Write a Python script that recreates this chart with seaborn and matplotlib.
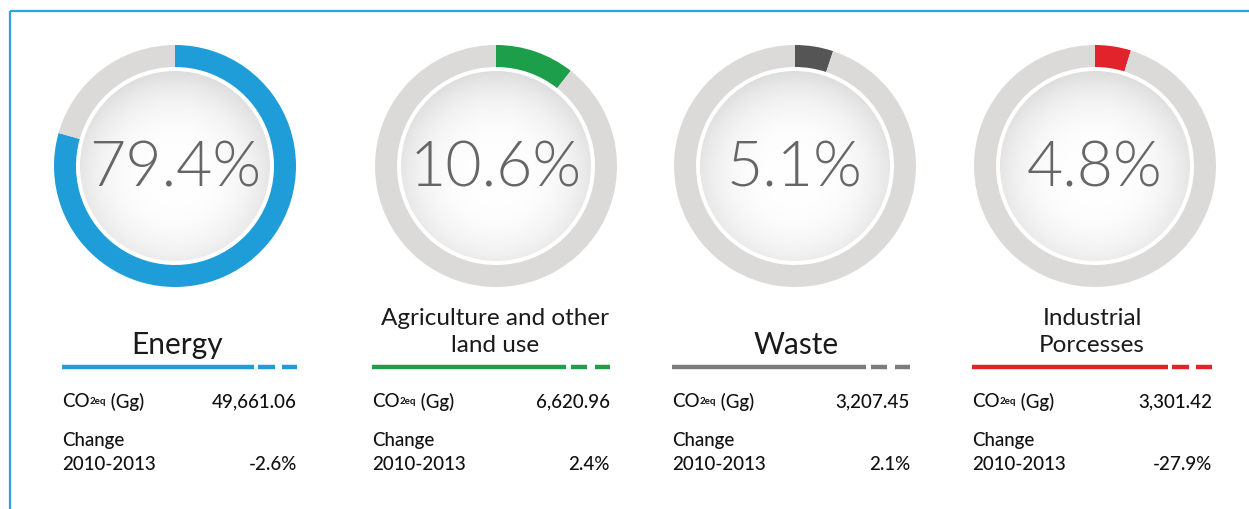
import numpy as np
import pandas as pd
import matplotlib
matplotlib.use("Agg")
import matplotlib.pyplot as plt
from matplotlib import font_manager
from matplotlib.patches import Circle
import seaborn as sns

# ---------------- data ----------------
categories = ["Energy", "Agriculture and other\nland use", "Waste", "Industrial\nPorcesses"]
shares = [79.4, 10.6, 5.1, 4.8]
share_labels = ["79.4%", "10.6%", "5.1%", "4.8%"]
co2_values = ["49,661.06", "6,620.96", "3,207.45", "3,301.42"]
change_values = ["-2.6%", "2.4%", "2.1%", "-27.9%"]
seg_colors = ["#1e9dd8", "#1c9e4a", "#555555", "#e2232b"]
line_colors = ["#1e9dd8", "#1c9e4a", "#7c7c7c", "#e2232b"]

df = pd.DataFrame({"category": categories, "share": shares})

# ---------------- style ----------------
sns.set_theme(style="white")


def has_family(name):
    return any(f.name == name for f in font_manager.fontManager.ttflist)


def light_family():
    for fam in ["Lato", "Open Sans", "Roboto", "Noto Sans", "Inter"]:
        for f in font_manager.fontManager.ttflist:
            if f.name == fam and isinstance(f.weight, int) and 290 <= f.weight <= 350:
                return fam, f.weight
    return ("Lato" if has_family("Lato") else "DejaVu Sans"), "normal"


BIG_FAM, BIG_W = light_family()
TXT_FAM = "Lato" if has_family("Lato") else "DejaVu Sans"
plt.rcParams["font.family"] = [TXT_FAM, "DejaVu Sans"]

W, H = 1249, 510
fig = plt.figure(figsize=(W / 100, H / 100), dpi=100)
fig.patch.set_facecolor("white")
ax = fig.add_axes([0, 0, 1, 1])

# layout (pixels, y measured from top)
centers_x = [175, 496, 795, 1095]
center_y = 167
R = 121
ring_w = 22
disc_r = 95
col_left = [62, 372, 672, 972]
col_right = [297, 610, 910, 1212]
title_dx = [-2, 4, 5, 0]

Y = lambda y: H - y  # convert top-based pixel to data y

# radial gradient image for inner discs
g = np.linspace(-1, 1, 300)
xx, yy = np.meshgrid(g, g)
rr = np.sqrt(xx ** 2 + (yy + 0.1) ** 2)
grad = np.clip(1.0 - 0.10 * rr ** 3.0, 0, 1)
grad_rgb = np.dstack([grad, grad, grad])

SMALL = dict(fontsize=13.5, color="#111111", fontweight="medium")

for i, row in df.iterrows():
    cx, cy = centers_x[i], Y(center_y)
    val = row["share"]
    ax.pie([val, 100 - val], center=(cx, cy), radius=R, startangle=90,
           counterclock=False, colors=[seg_colors[i], "#dcd9d9"],
           wedgeprops=dict(width=ring_w, linewidth=0), frame=True)
    im = ax.imshow(grad_rgb, extent=(cx - disc_r, cx + disc_r, cy - disc_r, cy + disc_r),
                   origin="lower", zorder=2, interpolation="bilinear")
    clip = Circle((cx, cy), disc_r, transform=ax.transData)
    im.set_clip_path(clip)
    ax.text(cx, cy - 2, share_labels[i], ha="center", va="center", fontsize=45,
            color="#666666", family=[BIG_FAM, "DejaVu Sans"], fontweight=BIG_W, zorder=3)

    # category title
    title = row["category"]
    mid = (col_left[i] + col_right[i]) / 2 + title_dx[i]
    if "\n" in title:
        ax.text(mid, Y(332), title, ha="center", va="center", fontsize=17.5,
                color="#1a1a1a", linespacing=1.4)
    else:
        ax.text(mid, Y(345), title, ha="center", va="center", fontsize=21.5,
                color="#1a1a1a")

    # underline: solid + two dashes
    L, Rr = col_left[i], col_right[i]
    span = Rr - L
    yl = Y(368)
    ax.plot([L, L + 0.815 * span], [yl, yl], color=line_colors[i], lw=3.2,
            solid_capstyle="butt")
    ax.plot([L + 0.835 * span, L + 0.905 * span], [yl, yl], color=line_colors[i], lw=3.2,
            solid_capstyle="butt")
    ax.plot([L + 0.935 * span, Rr], [yl, yl], color=line_colors[i], lw=3.2,
            solid_capstyle="butt")

    # CO2 row
    t_co = ax.text(L, Y(402), "CO", ha="left", va="center", **SMALL)
    t_sub = ax.annotate("2eq", xy=(1, 0.5), xycoords=t_co, ha="left", va="center",
                        fontsize=7, color="#111111", fontweight="bold")
    ax.annotate(" (Gg)", xy=(1, 0.5), xycoords=t_sub, ha="left", va="center", **SMALL)
    ax.text(Rr, Y(402), co2_values[i], ha="right", va="center", **SMALL)

    # change rows
    ax.text(L, Y(441), "Change", ha="left", va="center", **SMALL)
    ax.text(L, Y(465), "2010-2013", ha="left", va="center", **SMALL)
    ax.text(Rr, Y(465), change_values[i], ha="right", va="center", **SMALL)

# frame border (top and left only, as in the cropped reference)
ax.plot([10, W], [Y(12), Y(12)], color="#2ba3e0", lw=1.6, solid_capstyle="butt")
ax.plot([10, 10], [Y(12), 0], color="#2ba3e0", lw=1.6, solid_capstyle="butt")

ax.set_xlim(0, W)
ax.set_ylim(0, H)
ax.set_aspect("auto")
ax.set_axis_off()

fig.savefig("out.png", dpi=100, facecolor="white")
